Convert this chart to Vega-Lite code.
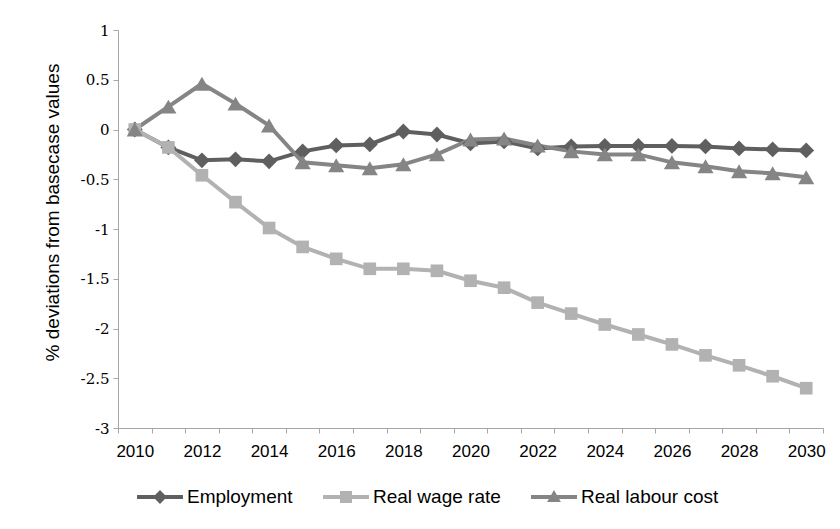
{
  "$schema": "https://vega.github.io/schema/vega-lite/v6.json",
  "width": 705,
  "height": 398,
  "autosize": {"type": "none"},
  "padding": {"left": 118, "top": 30, "right": 17, "bottom": 101},
  "background": "white",
  "config": {"view": {"stroke": null}, "font": "Liberation Sans"},
  "data": {
    "values": [
      {"year": 2010, "series": "Employment", "value": 0},
      {"year": 2011, "series": "Employment", "value": -0.18},
      {"year": 2012, "series": "Employment", "value": -0.31},
      {"year": 2013, "series": "Employment", "value": -0.3},
      {"year": 2014, "series": "Employment", "value": -0.32},
      {"year": 2015, "series": "Employment", "value": -0.22},
      {"year": 2016, "series": "Employment", "value": -0.16},
      {"year": 2017, "series": "Employment", "value": -0.15},
      {"year": 2018, "series": "Employment", "value": -0.02},
      {"year": 2019, "series": "Employment", "value": -0.05},
      {"year": 2020, "series": "Employment", "value": -0.14},
      {"year": 2021, "series": "Employment", "value": -0.12},
      {"year": 2022, "series": "Employment", "value": -0.19},
      {"year": 2023, "series": "Employment", "value": -0.17},
      {"year": 2024, "series": "Employment", "value": -0.165},
      {"year": 2025, "series": "Employment", "value": -0.165},
      {"year": 2026, "series": "Employment", "value": -0.165},
      {"year": 2027, "series": "Employment", "value": -0.17},
      {"year": 2028, "series": "Employment", "value": -0.19},
      {"year": 2029, "series": "Employment", "value": -0.2},
      {"year": 2030, "series": "Employment", "value": -0.21},
      {"year": 2010, "series": "Real wage rate", "value": 0},
      {"year": 2011, "series": "Real wage rate", "value": -0.18},
      {"year": 2012, "series": "Real wage rate", "value": -0.46},
      {"year": 2013, "series": "Real wage rate", "value": -0.73},
      {"year": 2014, "series": "Real wage rate", "value": -0.99},
      {"year": 2015, "series": "Real wage rate", "value": -1.18},
      {"year": 2016, "series": "Real wage rate", "value": -1.3},
      {"year": 2017, "series": "Real wage rate", "value": -1.4},
      {"year": 2018, "series": "Real wage rate", "value": -1.4},
      {"year": 2019, "series": "Real wage rate", "value": -1.42},
      {"year": 2020, "series": "Real wage rate", "value": -1.52},
      {"year": 2021, "series": "Real wage rate", "value": -1.59},
      {"year": 2022, "series": "Real wage rate", "value": -1.74},
      {"year": 2023, "series": "Real wage rate", "value": -1.85},
      {"year": 2024, "series": "Real wage rate", "value": -1.96},
      {"year": 2025, "series": "Real wage rate", "value": -2.06},
      {"year": 2026, "series": "Real wage rate", "value": -2.16},
      {"year": 2027, "series": "Real wage rate", "value": -2.27},
      {"year": 2028, "series": "Real wage rate", "value": -2.37},
      {"year": 2029, "series": "Real wage rate", "value": -2.48},
      {"year": 2030, "series": "Real wage rate", "value": -2.6},
      {"year": 2010, "series": "Real labour cost", "value": 0},
      {"year": 2011, "series": "Real labour cost", "value": 0.23},
      {"year": 2012, "series": "Real labour cost", "value": 0.46},
      {"year": 2013, "series": "Real labour cost", "value": 0.26},
      {"year": 2014, "series": "Real labour cost", "value": 0.04},
      {"year": 2015, "series": "Real labour cost", "value": -0.33},
      {"year": 2016, "series": "Real labour cost", "value": -0.36},
      {"year": 2017, "series": "Real labour cost", "value": -0.39},
      {"year": 2018, "series": "Real labour cost", "value": -0.35},
      {"year": 2019, "series": "Real labour cost", "value": -0.25},
      {"year": 2020, "series": "Real labour cost", "value": -0.1},
      {"year": 2021, "series": "Real labour cost", "value": -0.09},
      {"year": 2022, "series": "Real labour cost", "value": -0.16},
      {"year": 2023, "series": "Real labour cost", "value": -0.22},
      {"year": 2024, "series": "Real labour cost", "value": -0.25},
      {"year": 2025, "series": "Real labour cost", "value": -0.25},
      {"year": 2026, "series": "Real labour cost", "value": -0.33},
      {"year": 2027, "series": "Real labour cost", "value": -0.37},
      {"year": 2028, "series": "Real labour cost", "value": -0.42},
      {"year": 2029, "series": "Real labour cost", "value": -0.44},
      {"year": 2030, "series": "Real labour cost", "value": -0.48}
    ]
  },
  "encoding": {
    "x": {
      "field": "year",
      "type": "ordinal",
      "scale": {"type": "band", "paddingInner": 0, "paddingOuter": 0},
      "axis": {
        "title": null,
        "grid": false,
        "tickBand": "extent",
        "labelAngle": 0,
        "labelExpr": "datum.value % 2 == 0 ? datum.label : ''",
        "labelFont": "Liberation Sans",
        "labelFontSize": 17,
        "labelColor": "#000000",
        "labelPadding": 10,
        "domainColor": "#a6a6a6",
        "tickColor": "#a6a6a6",
        "tickSize": 5
      }
    },
    "y": {
      "field": "value",
      "type": "quantitative",
      "scale": {"domain": [-3, 1], "nice": false, "zero": false},
      "axis": {
        "title": "% deviations from basecase values",
        "titleFont": "Liberation Sans",
        "titleFontSize": 19,
        "titleFontWeight": "normal",
        "titleColor": "#000000",
        "titleX": -66,
        "titleY": 182,
        "titleBaseline": "middle",
        "titleAlign": "center",
        "grid": false,
        "values": [-3, -2.5, -2, -1.5, -1, -0.5, 0, 0.5, 1],
        "labelExpr": "datum.value + ''",
        "labelFont": "DejaVu Serif",
        "labelFontSize": 15,
        "labelColor": "#000000",
        "labelPadding": 4,
        "domainColor": "#a6a6a6",
        "tickColor": "#a6a6a6",
        "tickSize": 5
      }
    }
  },
  "layer": [
    {
      "mark": {"type": "line", "strokeWidth": 4},
      "encoding": {
        "detail": {"field": "series", "type": "nominal"},
        "color": {
          "condition": [
            {"test": "datum.series == 'Employment'", "value": "#5f5f5f"},
            {"test": "datum.series == 'Real wage rate'", "value": "#b2b2b2"}
          ],
          "value": "#858585"
        }
      }
    },
    {
      "mark": {"type": "point", "filled": true, "opacity": 1},
      "encoding": {
        "color": {
          "condition": [
            {"test": "datum.series == 'Employment'", "value": "#5f5f5f"},
            {"test": "datum.series == 'Real wage rate'", "value": "#b2b2b2"}
          ],
          "value": "#858585"
        },
        "shape": {
          "condition": [
            {"test": "datum.series == 'Employment'", "value": "diamond"},
            {"test": "datum.series == 'Real wage rate'", "value": "square"}
          ],
          "value": "triangle-up"
        },
        "size": {
          "condition": [
            {"test": "datum.series == 'Employment'", "value": 250},
            {"test": "datum.series == 'Real wage rate'", "value": 160}
          ],
          "value": 260
        }
      }
    },
    {
      "mark": {"type": "point", "filled": true, "opacity": 0},
      "encoding": {
        "color": {
          "field": "series",
          "type": "nominal",
          "scale": {
            "domain": ["Employment", "Real wage rate", "Real labour cost"],
            "range": ["#5f5f5f", "#b2b2b2", "#858585"]
          },
          "legend": {
            "title": null,
            "orient": "none",
            "legendX": 19,
            "legendY": 444,
            "direction": "horizontal",
            "columns": 3,
            "symbolSize": 2116,
            "symbolOpacity": 1,
            "symbolStrokeWidth": 0,
            "labelFont": "Liberation Sans",
            "labelFontSize": 19,
            "labelColor": "#000000",
            "labelOffset": 4,
            "labelLimit": 300,
            "columnPadding": 30
          }
        },
        "shape": {
          "field": "series",
          "type": "nominal",
          "scale": {
            "domain": ["Employment", "Real wage rate", "Real labour cost"],
            "range": [
              "M-1,-0.087H1V0.087H-1Z M0,-0.3L0.3,0L0,0.3L-0.3,0Z",
              "M-1,-0.087H1V0.087H-1Z M-0.26,-0.26H0.26V0.26H-0.26Z",
              "M-1,-0.087H1V0.087H-1Z M0,-0.3L0.3,0.22H-0.3Z"
            ]
          },
          "legend": {
            "title": null,
            "orient": "none",
            "legendX": 19,
            "legendY": 444,
            "direction": "horizontal",
            "columns": 3,
            "symbolSize": 2116,
            "symbolOpacity": 1,
            "symbolStrokeWidth": 0,
            "labelFont": "Liberation Sans",
            "labelFontSize": 19,
            "labelColor": "#000000",
            "labelOffset": 4,
            "labelLimit": 300,
            "columnPadding": 30
          }
        }
      }
    }
  ]
}
